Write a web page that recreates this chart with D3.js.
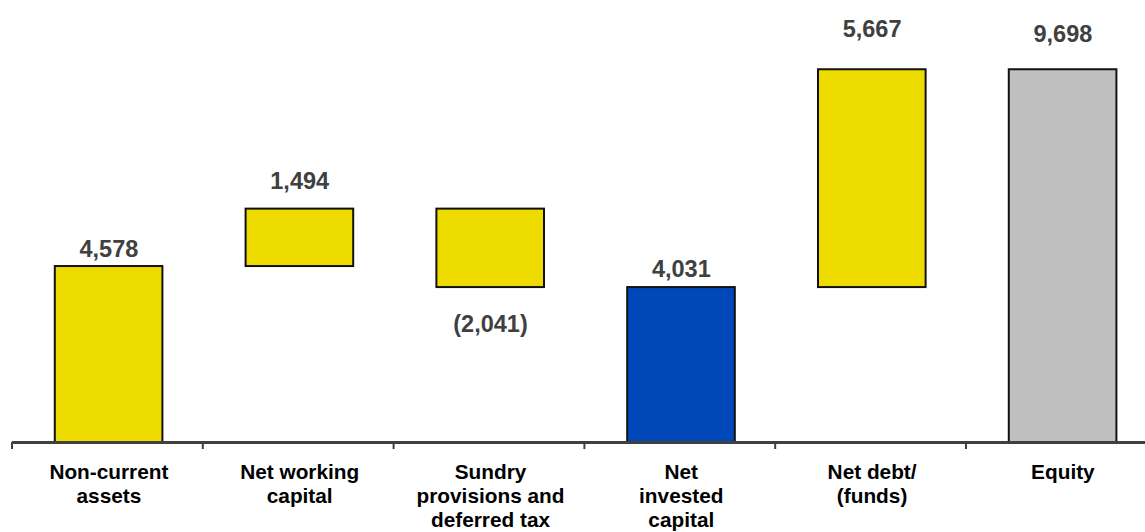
<!DOCTYPE html>
<html><head><meta charset="utf-8">
<script src="https://cdn.jsdelivr.net/npm/d3@7"></script>
<style>
html,body{margin:0;padding:0;background:#fff;}
svg{display:block;font-family:"Liberation Sans",Arial,sans-serif;}
</style></head>
<body><svg id="c" width="1145" height="532"></svg>
<script>
// ---- data ----
const categories = ["Non-current\nassets", "Net working\ncapital", "Sundry\nprovisions and\ndeferred tax", "Net\ninvested\ncapital", "Net debt/\n(funds)", "Equity"];
const starts = [0, 4578, 6072, 0, 4031, 0];
const ends   = [4578, 6072, 4031, 4031, 9698, 9698];
const valueLabels = ["4,578", "1,494", "(2,041)", "4,031", "5,667", "9,698"];
const kinds = ["delta", "delta", "delta", "total", "delta", "equity"];

// ---- layout ----
const svg = d3.select("#c");
const baseY = 442;
const y = d3.scaleLinear().domain([0, 11500]).range([baseY, 0]);
const x = d3.scaleBand().domain(d3.range(categories.length)).range([12, 12 + 6 * 190.8])
  .paddingInner(0.436).paddingOuter(0.218);
const colors = {delta: "#EEDC00", total: "#0047BA", equity: "#C0C0C0"};
// label vertical offsets (px) relative to bar end, negative above
const labelDy = [-9, -20, 45, -10, -32, -27];
const barShift = 1.2;

// bars
svg.selectAll("rect.bar").data(categories).join("rect")
  .attr("class", "bar")
  .attr("x", (d, i) => x(i) + barShift)
  .attr("width", x.bandwidth())
  .attr("y", (d, i) => y(Math.max(starts[i], ends[i])))
  .attr("height", (d, i) => Math.abs(y(starts[i]) - y(ends[i])))
  .attr("fill", (d, i) => colors[kinds[i]])
  .attr("stroke", "#111")
  .attr("stroke-width", 2);

// value labels
svg.selectAll("text.val").data(valueLabels).join("text")
  .attr("class", "val")
  .attr("x", (d, i) => x(i) + x.bandwidth() / 2 + 1.5)
  .attr("y", (d, i) => y(ends[i]) + labelDy[i])
  .attr("text-anchor", "middle")
  .attr("font-size", 23.5)
  .attr("font-weight", "bold")
  .attr("fill", "#404040")
  .text(d => d);

// axis line and boundary ticks
const step = x.step();
const r0 = x.range()[0];
svg.append("line").attr("x1", r0).attr("x2", x.range()[1])
  .attr("y1", baseY + 0.5).attr("y2", baseY + 0.5)
  .attr("stroke", "#404040").attr("stroke-width", 3);
svg.selectAll("line.tick").data(d3.range(categories.length + 1)).join("line")
  .attr("class", "tick")
  .attr("x1", i => r0 + i * step).attr("x2", i => r0 + i * step)
  .attr("y1", baseY).attr("y2", baseY + 7)
  .attr("stroke", "#404040").attr("stroke-width", 2);

// category labels
const cat = svg.selectAll("text.cat").data(categories).join("text")
  .attr("class", "cat")
  .attr("text-anchor", "middle")
  .attr("font-size", 20.8)
  .attr("font-weight", "bold")
  .attr("fill", "#000");
cat.each(function(d, i) {
  const t = d3.select(this);
  d.split("\n").forEach((line, k) => {
    t.append("tspan").attr("x", x(i) + x.bandwidth() / 2 + 1.5).attr("y", 479 + k * 24).text(line);
  });
});
</script></body></html>
